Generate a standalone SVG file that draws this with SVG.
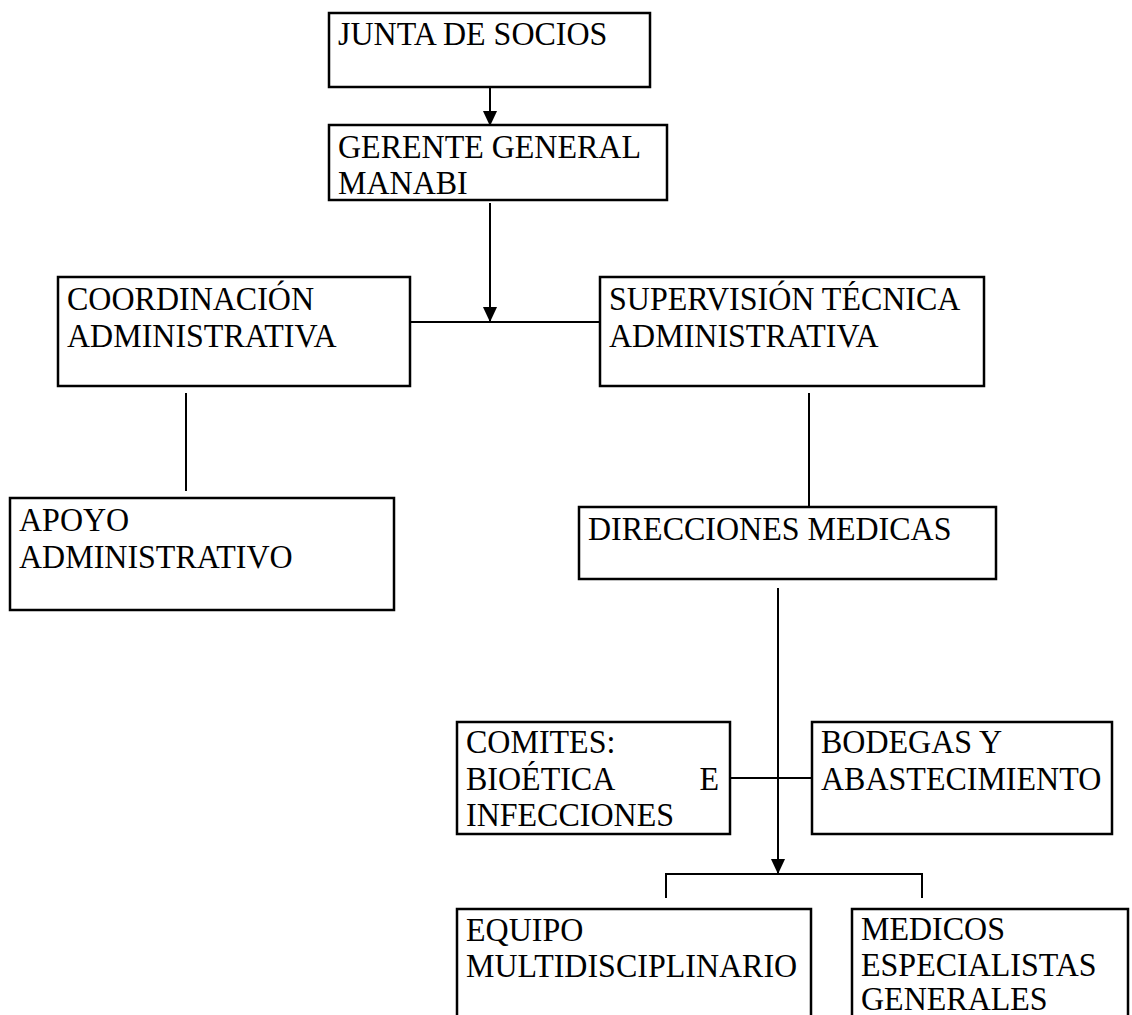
<svg xmlns="http://www.w3.org/2000/svg" width="1132" height="1015" viewBox="0 0 1132 1015">
<defs>
<style>
.box{fill:#fff;stroke:#000;stroke-width:2.5}
.t{font-family:"Liberation Serif","Times New Roman",serif;font-size:32px;fill:#000}
.c{fill:none;stroke:#000;stroke-width:2}
</style>
<marker id="ah" markerWidth="15" markerHeight="16" refX="16" refY="7.5" orient="auto" markerUnits="userSpaceOnUse" viewBox="0 0 16 15">
<path d="M0,0 L16,7.5 L0,15 Z" fill="#000"/>
</marker>
</defs>
<rect width="1132" height="1015" fill="#fff"/>
<g id="connectors">
<line class="c" x1="490" y1="82" x2="490" y2="126" marker-end="url(#ah)"/>
<line class="c" x1="490" y1="203" x2="490" y2="322" marker-end="url(#ah)"/>
<line class="c" x1="410" y1="322" x2="600" y2="322"/>
<line class="c" x1="186" y1="393" x2="186" y2="491"/>
<line class="c" x1="809" y1="393" x2="809" y2="512"/>
<line class="c" x1="778" y1="588" x2="778" y2="874" marker-end="url(#ah)"/>
<line class="c" x1="730" y1="778" x2="812" y2="778"/>
<path class="c" d="M666,898 V874 H922 V898"/>
</g>
<g id="junta">
<rect class="box" x="329" y="13" width="321" height="74"/>
<text class="t" transform="translate(338,45) scale(1,1.08)">JUNTA DE SOCIOS</text>
</g>
<g id="gerente">
<rect class="box" x="329" y="125" width="338" height="75"/>
<text class="t" transform="translate(338,158) scale(1,1.08)">GERENTE GENERAL</text>
<text class="t" transform="translate(338,194) scale(1,1.08)">MANABI</text>
</g>
<g id="coordinacion">
<rect class="box" x="58" y="277" width="352" height="109"/>
<text class="t" transform="translate(67,310) scale(1,1.08)">COORDINACIÓN</text>
<text class="t" transform="translate(67,347) scale(1,1.08)">ADMINISTRATIVA</text>
</g>
<g id="supervision">
<rect class="box" x="600" y="277" width="384" height="109"/>
<text class="t" transform="translate(609,310) scale(1,1.08)">SUPERVISIÓN TÉCNICA</text>
<text class="t" transform="translate(609,347) scale(1,1.08)">ADMINISTRATIVA</text>
</g>
<g id="apoyo">
<rect class="box" x="10" y="498" width="384" height="112"/>
<text class="t" transform="translate(19,531) scale(1,1.08)">APOYO</text>
<text class="t" transform="translate(19,568) scale(1,1.08)">ADMINISTRATIVO</text>
</g>
<g id="direcciones">
<rect class="box" x="579" y="507" width="417" height="72"/>
<text class="t" transform="translate(588,540) scale(1,1.08)">DIRECCIONES MEDICAS</text>
</g>
<g id="comites">
<rect class="box" x="457" y="722" width="273" height="112"/>
<text class="t" transform="translate(466,753) scale(1,1.08)">COMITES:</text>
<text class="t" transform="translate(466,790) scale(1,1.08)">BIOÉTICA</text>
<text class="t" transform="translate(719,790) scale(1,1.08)" text-anchor="end">E</text>
<text class="t" transform="translate(466,826) scale(1,1.08)">INFECCIONES</text>
</g>
<g id="bodegas">
<rect class="box" x="812" y="722" width="300" height="112"/>
<text class="t" transform="translate(821,753) scale(1,1.08)">BODEGAS Y</text>
<text class="t" transform="translate(821,790) scale(1,1.08)">ABASTECIMIENTO</text>
</g>
<g id="equipo">
<rect class="box" x="457" y="909" width="354" height="120"/>
<text class="t" transform="translate(466,941) scale(1,1.08)">EQUIPO</text>
<text class="t" transform="translate(466,977) scale(1,1.08)">MULTIDISCIPLINARIO</text>
</g>
<g id="medicos">
<rect class="box" x="852" y="909" width="276" height="120"/>
<text class="t" transform="translate(861,940) scale(1,1.08)">MEDICOS</text>
<text class="t" transform="translate(861,976) scale(1,1.08)">ESPECIALISTAS</text>
<text class="t" transform="translate(861,1010) scale(1,1.08)">GENERALES</text>
</g>
</svg>
